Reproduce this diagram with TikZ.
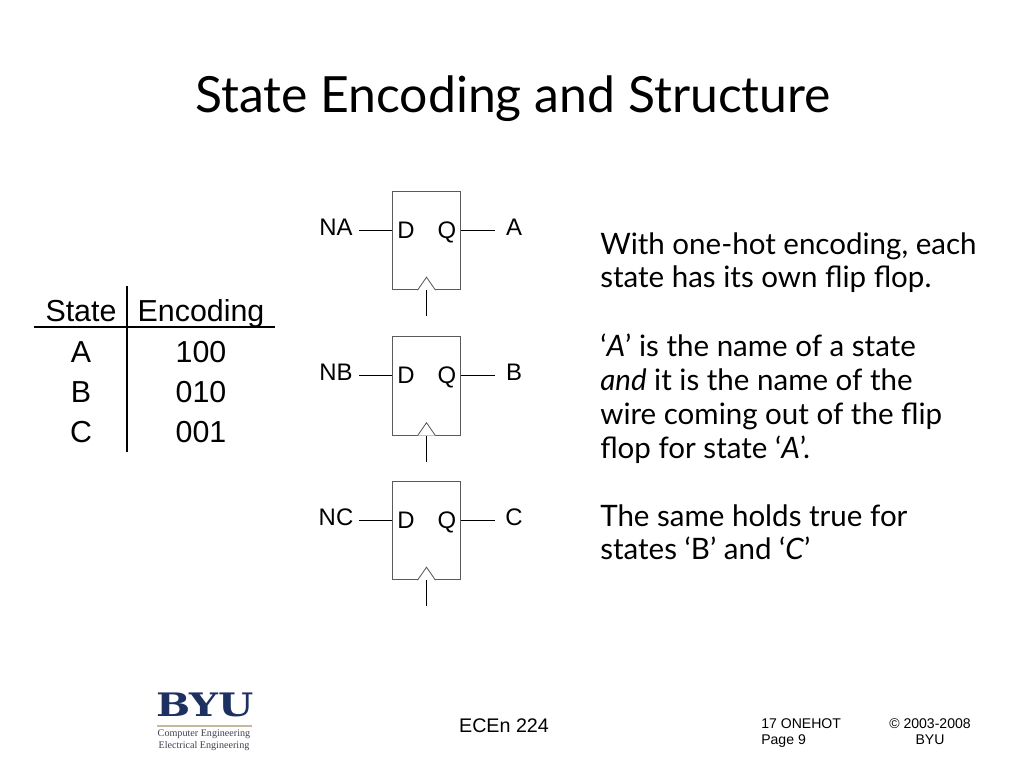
\documentclass[tikz,border=0pt]{standalone}
\usepackage{fontspec}
\setmainfont{Liberation Sans}
\newfontfamily\handfont{Lato}
\newfontfamily\logofont{Liberation Serif}
\newfontfamily\byufont[FakeStretch=1.25]{DejaVu Serif}
\usetikzlibrary{positioning, calc}
\definecolor{byublue}{RGB}{28,49,96}
\definecolor{byutan}{RGB}{196,186,158}
\definecolor{boxgray}{RGB}{90,90,90}
\definecolor{deptgray}{RGB}{60,65,80}
\tikzset{
    flipflop/.style={draw=boxgray, line width=0.7pt, minimum width=49pt, minimum height=70pt, inner sep=0pt},
    wire/.style={line width=0.6pt},
    clockmark/.style={draw=boxgray, fill=white, line width=0.6pt},
    pinlabel/.style={font=\fontsize{17}{20}\selectfont, inner sep=0pt, anchor=base},
    tablelabel/.style={font=\fontsize{21.6}{26}\selectfont, inner sep=0pt, anchor=base},
    tablerule/.style={line width=1.8pt},
    handtext/.style={font=\handfont\fontsize{21}{24.1}\selectfont, align=left, anchor=north west, inner sep=0pt},
    footlabel/.style={font=\fontsize{10}{11.4}\selectfont, align=left, anchor=north west, inner sep=0pt}
}

\begin{document}
\begin{tikzpicture}[x=0.025cm, y=-0.025cm]
    \useasboundingbox (0, 0) rectangle (1024, 768);
    \node[font=\handfont\fontsize{35.5}{40}\selectfont, inner sep=0pt, anchor=base] (title) at (513, 113) {State Encoding and Structure};

    % state table
    \node[tablelabel] (state) at (81, 321) {State};
    \node[tablelabel] (encoding) at (201, 321) {Encoding};
    \node[tablelabel] (rowa) at (81, 362) {A};
    \node[tablelabel] (codea) at (201, 362) {100};
    \node[tablelabel] (rowb) at (81, 402) {B};
    \node[tablelabel] (codeb) at (201, 402) {010};
    \node[tablelabel] (rowc) at (81, 442) {C};
    \node[tablelabel] (codec) at (201, 442) {001};
    \coordinate (ruletop) at (127, 286);
    \coordinate (rulebot) at (127, 452);
    \coordinate (ruleleft) at (34, 327);
    \coordinate (ruleright) at (275, 327);
    \draw[tablerule] (ruletop) -- (rulebot);
    \draw[tablerule] (ruleleft) -- (ruleright);

    % flip flops
    \foreach \name/\ypos in {A/240.5, B/386, C/530.5} {
        \node[flipflop] (ff\name) at (426.5, \ypos) {};
        \node[pinlabel] (d\name) at (406, \ypos-2.5) {D};
        \node[pinlabel] (q\name) at (447, \ypos-2.5) {Q};
        \node[pinlabel] (in\name) at (336, \ypos-5.5) {N\name};
        \node[pinlabel] (out\name) at (514, \ypos-5.5) {\name};
        \coordinate (inend\name) at (359, \ypos-10.5);
        \coordinate (outend\name) at (495, \ypos-10.5);
        \coordinate (clkend\name) at (426.5, \ypos+75.5);
        \draw[wire] (inend\name) -- (inend\name -| ff\name.west);
        \draw[wire] (outend\name -| ff\name.east) -- (outend\name);
        \draw[clockmark] ($(ff\name.south)+(-9, 0)$) -- ($(ff\name.south)+(0, -13)$) -- ($(ff\name.south)+(9, 0)$);
        \draw[wire] (ff\name.south) -- (clkend\name);
    }

    % right hand text
    \node[handtext] (para1) at (600, 232) {With one-hot encoding, each\\state has its own flip flop.};
    \node[handtext] (para2) at (600, 334) {‘\textit{A}’ is the name of a state\\\textit{and} it is the name of the\\wire coming out of the flip\\flop for state ‘\textit{A}’.};
    \node[handtext] (para3) at (600, 504) {The same holds true for\\states ‘B’ and ‘\textit{C}’};

    % logo
    \node[font=\byufont\bfseries\fontsize{23}{24}\selectfont, text=byublue, inner sep=0pt, anchor=base] (byu) at (205, 716) {BYU};
    \coordinate (logoleft) at (157, 726);
    \coordinate (logoright) at (252, 726);
    \draw[byutan, line width=1.2pt] (logoleft) -- (logoright);
    \node[font=\logofont\fontsize{7.2}{8.5}\selectfont, text=deptgray, align=center, inner sep=0pt] (dept) at (204, 740) {Computer Engineering\\Electrical Engineering};

    % footer
    \node[font=\fontsize{14}{16}\selectfont, inner sep=0pt] (course) at (504, 726) {ECEn 224};
    \node[footlabel] (page) at (761, 718) {17 ONEHOT\\Page 9};
    \node[font=\fontsize{10}{11.4}\selectfont, align=center, inner sep=0pt] (copy) at (930, 732) {© 2003-2008\\BYU};
\end{tikzpicture}
\end{document}
